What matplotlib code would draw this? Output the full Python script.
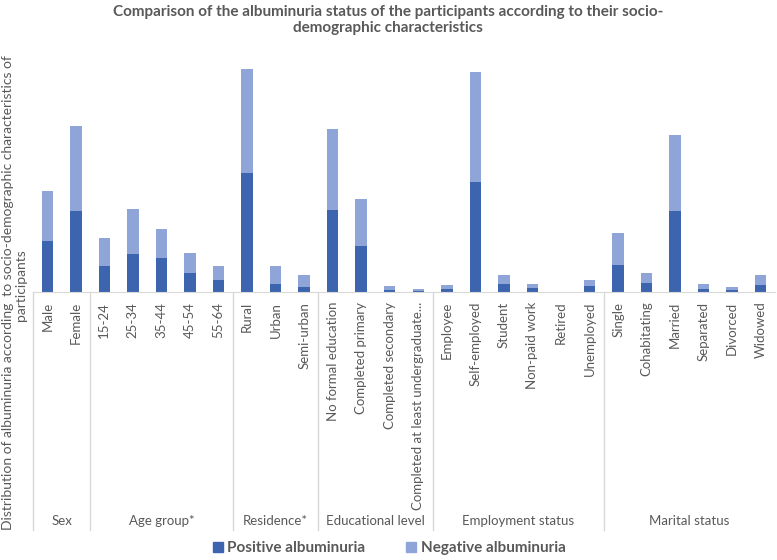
import numpy as np
import matplotlib
matplotlib.use("Agg")
import matplotlib.pyplot as plt
from matplotlib.lines import Line2D

plt.rcParams['font.family'] = ['Lato', 'DejaVu Sans']

# categories, grouped
groups = ["Sex", "Age group*", "Residence*", "Educational level",
          "Employment status", "Marital status"]
group_sizes = [2, 5, 3, 4, 6, 6]
categories = ["Male", "Female",
              "15-24", "25-34", "35-44", "45-54", "55-64",
              "Rural", "Urban", "Semi-urban",
              "No formal education", "Completed primary",
              "Completed secondary", "Completed at least undergraduate...",
              "Employee", "Self-employed", "Student", "Non-paid work",
              "Retired", "Unemployed",
              "Single", "Cohabitating", "Married", "Separated",
              "Divorced", "Widowed"]
positive = [51, 81,
            26, 38, 34, 19, 12,
            119, 8, 5,
            82, 46, 2, 1,
            3, 110, 8, 4, 0, 6,
            27, 9, 81, 3, 2, 7]
negative = [50, 85,
            28, 45, 29, 20, 14,
            104, 18, 12,
            81, 47, 4, 2,
            4, 110, 9, 4, 0, 6,
            32, 10, 76, 5, 3, 10]

c_pos = '#3D64AE'
c_neg = '#8FA5D7'
txt = '#595959'
sep = '#D9D9D9'

W, H = 777, 560
fig = plt.figure(figsize=(W/100, H/100), dpi=100)
ax = fig.add_axes([33/W, (H-292)/H, 742/W, 232/H])

x = np.arange(len(categories))
ax.bar(x, positive, width=0.4, color=c_pos, label='Positive albuminuria')
ax.bar(x, negative, width=0.4, bottom=positive, color=c_neg,
       label='Negative albuminuria')
ax.set_xlim(-0.5, len(categories) - 0.5)
ax.set_ylim(0, 232)

ax.set_yticks([])
ax.set_xticks(x)
ax.set_xticklabels(categories, rotation=90, fontsize=9.5, color=txt)
ax.tick_params(axis='x', length=0, pad=7)
for s in ['top', 'right', 'left']:
    ax.spines[s].set_visible(False)
ax.spines['bottom'].set_color(sep)

# group separators and labels
bottom_frac = -(530 - 292) / 232
label_frac = -(521 - 292) / 232
start = -0.5
for g, n in zip(groups, group_sizes):
    ax.add_line(Line2D([start, start], [0, bottom_frac], color=sep, lw=1,
                       transform=ax.get_xaxis_transform(), clip_on=False))
    ax.text(start + n / 2, label_frac, g, transform=ax.get_xaxis_transform(),
            ha='center', va='center', fontsize=9.5, color=txt)
    start += n

fig.text(388/W, 1 - 20/H,
         "Comparison of the albuminuria status of the participants according to their socio-\ndemographic characteristics",
         ha='center', va='center', fontsize=11, fontweight='bold', color=txt,
         linespacing=1.2)

# y label, two lines
fig.text(8/W, 1 - 293/H,
         "Distribution of albuminuria according  to socio-demographic characteristics of",
         rotation=90, ha='center', va='center', fontsize=10, color=txt)
fig.text(21/W, 1 - 285/H, "participants",
         rotation=90, ha='center', va='center', fontsize=10, color=txt)

fig.legend(handles=[
    Line2D([], [], marker='s', ls='none', color=c_pos, markersize=7,
           label='Positive albuminuria'),
    Line2D([], [], marker='s', ls='none', color=c_neg, markersize=7,
           label='Negative albuminuria')],
    loc='center', bbox_to_anchor=(388/W, 1 - 548/H), ncol=2, frameon=False,
    handletextpad=0.1, columnspacing=2.5, handlelength=1.0,
    prop={'size': 11, 'weight': 'bold'}, labelcolor=txt)

fig.savefig('out.png', dpi=100)
